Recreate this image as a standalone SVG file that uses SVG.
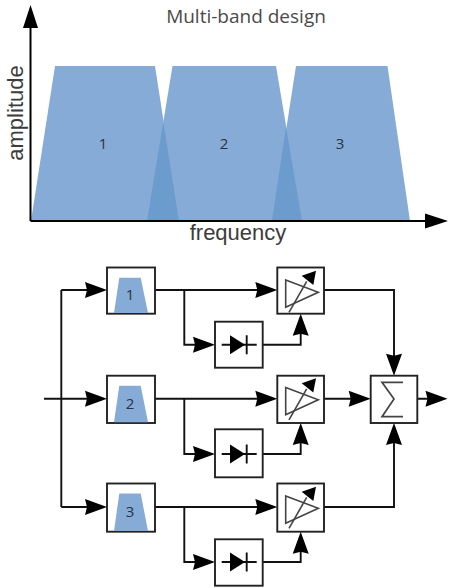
<svg xmlns="http://www.w3.org/2000/svg" width="449" height="588" viewBox="0 0 449 588">
<style>
.band{fill:#85abd6}
.overlap{fill:#6b9ccd}
.mini{fill:#85abd6}
.box{fill:#fff;stroke:#222;stroke-width:1.9}
.wire{fill:none;stroke:#111;stroke-width:1.9}
.axis{fill:none;stroke:#000;stroke-width:2}
.head{fill:#000}
.amp{fill:none;stroke:#444;stroke-width:1.6}
.num{font-family:"Open Sans",sans-serif;font-size:15px;fill:#2a3244;text-anchor:middle;font-weight:500}
.ax{font-family:"Liberation Sans",Arial,sans-serif;font-size:22px;fill:#3c3c3c;text-anchor:middle}
</style>
<defs>
<polygon id="ah" class="head" points="0,0 -22,-8 -20,0 -22,8"/>
<g id="ampGlyph"><path class="amp" d="M8.400 12.500L41 24.800L8.400 39.800Z"/><path class="amp" d="M11.700 44.800L29.400 13.800"/><polygon class="head" points="38.700,3.200 24.400,8.200 36,17.500"/></g>
<g id="diode"><path class="wire" d="M6.700 23H41.700M31.700 13.500V32.500"/><polygon class="head" points="15,13.500 30,23 15,32.500"/></g>
</defs>
<g id="bands">
<polygon class="band" points="31,221 55,66 155,66 179,221"/>
<polygon class="band" points="147,221 172.500,66 276,66 302,221"/>
<polygon class="band" points="272,221 296,66 387.500,66 410,221"/>
<polygon class="overlap" points="147,221 163.300,122 179,221"/>
<polygon class="overlap" points="272,221 286,127 302,221"/>
</g>
<g id="axes">
<path class="axis" d="M30.500 221V22M30.500 221H430"/>
<polygon class="head" points="30.500,5 23,28 38,28"/>
<polygon class="head" points="448,221 425,213.500 425,228.500"/>
</g>
<g id="labels">
<text x="246" y="23" font-family="Open Sans, sans-serif" font-size="19" fill="#4a4a4a" text-anchor="middle">Multi-band design</text>
<text x="238" y="240" class="ax">frequency</text>
<text class="ax" transform="translate(23 113) rotate(-90)">amplitude</text>
<text x="103" y="149" class="num">1</text>
<text x="224" y="149" class="num">2</text>
<text x="340" y="149" class="num">3</text>
</g>
<g id="connectors">
<path class="wire" d="M44 398.700H90M61.300 290V507M61.300 290H90M61.300 507H90"/>
<path class="wire" d="M155 290H260M184.300 290V344.700H198M155 398.700H260M184.300 398.700V454H198M155 507H260M184.300 507V562H198"/>
<path class="wire" d="M262.700 344.700H300.700V330M262.700 454H300.700V440M262.700 562H300.700V548"/>
<path class="wire" d="M324 290H394V360M324 398.700H355M324 507H394V440M417.300 398.700H430"/>
<use href="#ah" x="107" y="290"/><use href="#ah" x="107" y="398.700"/><use href="#ah" x="107" y="507"/>
<use href="#ah" x="215" y="344.700"/><use href="#ah" x="215" y="454"/><use href="#ah" x="215" y="562"/>
<use href="#ah" x="277.300" y="290"/><use href="#ah" x="277.300" y="398.700"/><use href="#ah" x="277.300" y="507"/>
<use href="#ah" x="370.700" y="398.700"/><use href="#ah" x="447.500" y="398.700"/>
<use href="#ah" transform="translate(300.700 313.700) rotate(-90)"/>
<use href="#ah" transform="translate(300.700 423) rotate(-90)"/>
<use href="#ah" transform="translate(300.700 531.700) rotate(-90)"/>
<use href="#ah" transform="translate(394 375.700) rotate(90)"/>
<use href="#ah" transform="translate(394 423) rotate(-90)"/>
</g>
<g id="filter1"><rect class="box" x="107" y="267.500" width="48" height="46.200"/><polygon class="mini" points="114,313 119.300,277.700 140.700,277.700 148,313"/><text x="130" y="300" class="num">1</text></g>
<g id="filter2"><rect class="box" x="107" y="375.700" width="48" height="47.300"/><polygon class="mini" points="114,422.300 119.300,385.700 140.700,385.700 148,422.300"/><text x="130" y="409" class="num">2</text></g>
<g id="filter3"><rect class="box" x="107" y="483.500" width="48" height="48.200"/><polygon class="mini" points="114,531 119.300,493.500 140.700,493.500 148,531"/><text x="130" y="517" class="num">3</text></g>
<g id="detector1"><rect class="box" x="215" y="321.700" width="47.700" height="46"/><use href="#diode" x="215" y="321.700"/></g>
<g id="detector2"><rect class="box" x="215" y="429.300" width="47.700" height="48"/><use href="#diode" x="215" y="431"/></g>
<g id="detector3"><rect class="box" x="215" y="539.300" width="47.700" height="46.400"/><use href="#diode" x="215" y="539"/></g>
<g id="amp1"><rect class="box" x="277.300" y="267.500" width="46.700" height="46.200"/><use href="#ampGlyph" x="277.300" y="267.500"/></g>
<g id="amp2"><rect class="box" x="277.300" y="375.700" width="46.700" height="47.300"/><use href="#ampGlyph" x="277.300" y="375"/></g>
<g id="amp3"><rect class="box" x="277.300" y="483.500" width="46.700" height="48.200"/><use href="#ampGlyph" x="277.300" y="483.500"/></g>
<g id="sum"><rect class="box" x="370.700" y="375.700" width="46.600" height="47.300"/><path d="M403 382.300H382L394 399L382 416.700H403" fill="none" stroke="#444" stroke-width="1.700"/></g>
</svg>
